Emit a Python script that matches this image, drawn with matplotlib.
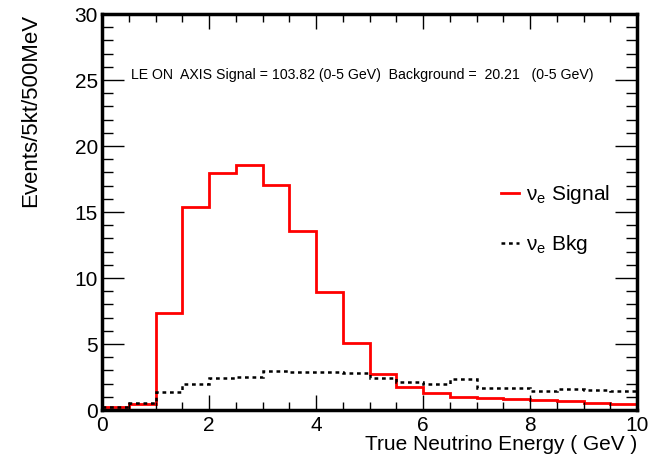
import numpy as np
import matplotlib
matplotlib.use("Agg")
import matplotlib.pyplot as plt
from matplotlib.ticker import MultipleLocator

plt.rcParams['font.family'] = ['Liberation Sans', 'DejaVu Sans']
plt.rcParams['mathtext.fontset'] = 'custom'
plt.rcParams['mathtext.rm'] = 'Liberation Sans'

edges = np.arange(0, 10.5, 0.5)
signal = [0.2, 0.45, 7.37, 15.36, 17.93, 18.56, 17.07, 13.56, 8.91, 5.05,
          2.73, 1.77, 1.31, 0.96, 0.88, 0.81, 0.73, 0.66, 0.53, 0.45]
bkg = [0.2, 0.55, 1.33, 1.98, 2.42, 2.5, 2.95, 2.9, 2.88, 2.8,
       2.42, 2.15, 1.94, 2.32, 1.67, 1.67, 1.46, 1.59, 1.52, 1.44]

fig = plt.figure(figsize=(6.61, 4.57), dpi=100)
ax = fig.add_axes([102/661, 1-410/457, (637-102)/661, (410-14)/457])

ax.stairs(signal, edges, color='#ff0000', lw=2, label=r'ν$_{\mathrm{e}}$ Signal', baseline=None)
ax.stairs(bkg, edges, color='black', lw=1.8, ls=(0, (1.5, 1.5)), label=r'ν$_{\mathrm{e}}$ Bkg', baseline=None)

ax.set_xlim(0, 10)
ax.set_ylim(0, 30)
ax.xaxis.set_major_locator(MultipleLocator(2))
ax.xaxis.set_minor_locator(MultipleLocator(0.5))
ax.yaxis.set_major_locator(MultipleLocator(5))
ax.yaxis.set_minor_locator(MultipleLocator(1))
ax.tick_params(which='both', direction='in', top=True, right=True, labelsize=15, width=1)
ax.tick_params(axis='y', which='major', length=16)
ax.tick_params(axis='y', which='minor', length=8)
ax.tick_params(axis='x', which='major', length=11)
ax.tick_params(axis='x', which='minor', length=6)
ax.tick_params(axis='x', pad=4)
ax.tick_params(axis='y', pad=3)
for s in ax.spines.values():
    s.set_linewidth(2.5)

ax.set_xlabel('True Neutrino Energy ( GeV )', fontsize=15, loc='right', labelpad=0)
ax.set_ylabel('Events/5kt/500MeV', fontsize=16, loc='top', labelpad=24)

ax.text(0.486, 0.846, 'LE ON  AXIS Signal = 103.82 (0-5 GeV)  Background =  20.21   (0-5 GeV)',
        transform=ax.transAxes, ha='center', va='center', fontsize=10.2)

leg = ax.legend(loc='upper left', bbox_to_anchor=(0.71, 0.62), frameon=False, fontsize=15,
                handlelength=0.9, handletextpad=0.3, labelspacing=1.3)

fig.savefig('out.png', dpi=100)
